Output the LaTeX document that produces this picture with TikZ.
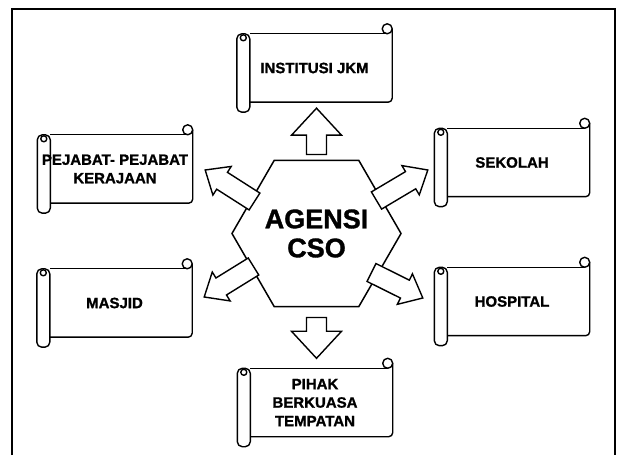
\documentclass[tikz,border=0pt]{standalone}
\usepackage{fontspec}
\setmainfont{Liberation Sans}[BoldFeatures={FakeBold=1.2}]
\usepackage{tikz}
\usetikzlibrary{calc,shapes.geometric}

\newcommand{\scrolldeco}[1]{%
  \draw[scrollline, rounded corners=5pt] (#1.north west) rectangle ($(#1.south west)+(13,-10)$);
  \draw[scrollline] ($(#1.north west)+(6.5,-4)$) circle (3);
  \draw[scrollline] ($(#1.north west)+(13,0)$) -- ($(#1.north east)+(-5,0)$);
  \draw[scrollline] ($(#1.north east)+(-5,5)$) circle (5);
  \draw[scrollline, rounded corners=4pt] ($(#1.north east)+(0,5)$) -- (#1.south east) -- ($(#1.south west)+(13,0)$);
}
\newcommand{\blockarrow}[4]{% tail, tip, half head width, head length
  \coordinate (bh) at ($(#2)!#4pt!(#1)$);
  \draw[blockarrow] ($(#1)!10pt!90:(#2)$) -- ($(bh)!10pt!-90:(#1)$) -- ($(bh)!#3pt!-90:(#1)$) -- (#2)
    -- ($(bh)!#3pt!90:(#1)$) -- ($(bh)!10pt!90:(#1)$) -- ($(#1)!10pt!-90:(#2)$) -- cycle;
}

\begin{document}
\begin{tikzpicture}[x=1pt, y=1pt]
    \tikzstyle{scrollline} = [draw, line width=1.4pt, line join=round]
    \tikzstyle{scrollbox} = [rectangle, minimum width=155pt, minimum height=68pt, inner sep=0pt, align=center, font=\fontsize{15}{18.5}\selectfont\bfseries]
    \tikzstyle{blockarrow} = [draw, line width=1.4pt, fill=white]
    \tikzstyle{agency} = [draw, regular polygon, regular polygon sides=6, minimum size=142pt, inner sep=0pt, line width=1.5pt, align=center, font=\fontsize{27}{29}\selectfont\bfseries]

    \useasboundingbox (0,0) rectangle (623,455);
    \draw[line width=2.6pt] (12,0) -- (12,446) -- (615,446) -- (615,0);

    \node (hex) [agency] at (316.5,221.5) {AGENSI\\CSO};
    \node (jkm) [scrollbox] at (314.5,387) {INSTITUSI JKM};
    \node (pej) [scrollbox] at (115,286) {PEJABAT- PEJABAT\\KERAJAAN};
    \node (sek) [scrollbox] at (512,292.5) {SEKOLAH};
    \node (mas) [scrollbox] at (114.5,152) {MASJID};
    \node (hos) [scrollbox] at (512,153.5) {HOSPITAL};
    \node (pih) [scrollbox] at (315,52.5) {PIHAK\\BERKUASA\\TEMPATAN};
    \foreach \s in {jkm,pej,sek,mas,hos,pih} {\scrolldeco{\s}}

    \coordinate (upS) at ($(hex.north)+(0,5)$);
    \coordinate (upE) at ($(hex.north |- jkm.south)+(0,-6)$);
    \coordinate (dnS) at ($(hex.south)+(0,-10)$);
    \coordinate (dnE) at ($(hex.south |- pih.north)+(0,10)$);
    \coordinate (ulS) at ($(hex.center)+(-62,32)$);
    \coordinate (ulE) at ($(pej.east)+(12.5,-1)$);
    \coordinate (urS) at ($(hex.center)+(60,33)$);
    \coordinate (urE) at ($(sek.west)+(-6.5,-7.5)$);
    \coordinate (llS) at ($(hex.center)+(-63,-33)$);
    \coordinate (llE) at ($(mas.east)+(12,6)$);
    \coordinate (lrS) at ($(hex.center)+(55,-39)$);
    \coordinate (lrE) at ($(hos.west)+(-11.5,3.5)$);

    \blockarrow{upS}{upE}{25}{27}
    \blockarrow{dnS}{dnE}{25}{27}
    \blockarrow{ulS}{ulE}{17}{20}
    \blockarrow{urS}{urE}{17}{20}
    \blockarrow{llS}{llE}{17}{20}
    \blockarrow{lrS}{lrE}{17}{20}
\end{tikzpicture}
\end{document}
